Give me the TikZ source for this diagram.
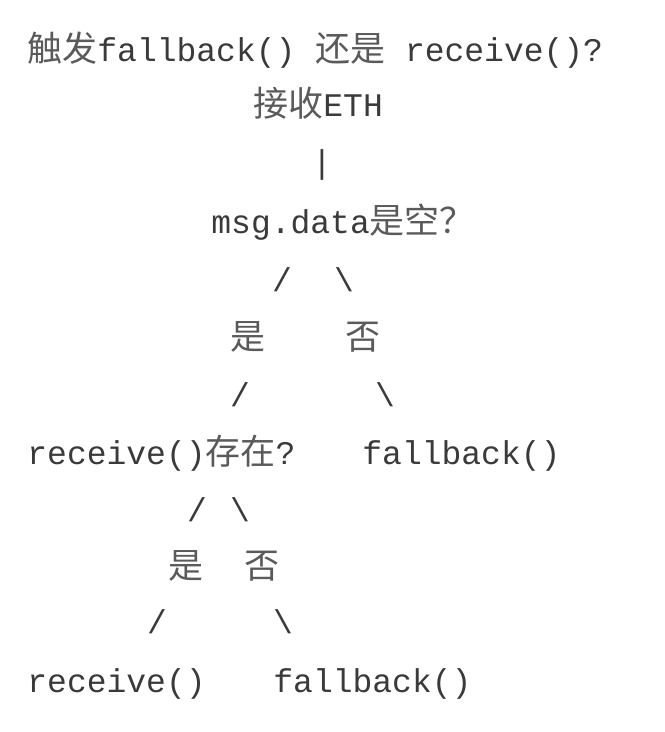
\documentclass[tikz,border=0pt]{standalone}
\usepackage{fontspec}
\setmonofont{Liberation Mono}
\newfontfamily\cjk{Noto Sans CJK SC}
\usepackage{tikz}
\definecolor{inkgray}{HTML}{3A3A3A}
\definecolor{hangray}{HTML}{5A5A5A}
\newcommand{\zh}[1]{{\cjk\fontsize{17.5}{18}\selectfont\color{hangray}#1}}

\begin{document}
\begin{tikzpicture}[x=0.5pt, y=-0.5pt,
    txt/.style={inner sep=0pt, font=\ttfamily\fontsize{16.5}{18}\selectfont, text=inkgray, anchor=base west},
    glyph/.style={txt, anchor=center}
]
    \useasboundingbox (0,0) rectangle (664,732);

    % heading and root
    \node[txt] (title) at (27,62) {\zh{触发}fallback() \zh{还是} receive()?};
    \node[txt] (root) at (253,117) {\zh{接收}ETH};
    \node[glyph] (bar) at (322,165) {|};

    % first question
    \node[txt] (qdata) at (211,234) {msg.data\zh{是空？}};
    \node[glyph] (sla) at (282,280) {/};
    \node[glyph] (bsa) at (344,280) {\textbackslash};
    \node[glyph] (yesa) at (248,337) {\zh{是}};
    \node[glyph] (noa) at (363,337) {\zh{否}};
    \node[glyph] (slb) at (240,395) {/};
    \node[glyph] (bsb) at (385,395) {\textbackslash};

    % second question
    \node[txt] (qrecv) at (27,464) {receive()\zh{存在}?};
    \node[txt] (fallbacka) at (362,464) {fallback()};
    \node[glyph] (slc) at (197,510) {/};
    \node[glyph] (bsc) at (240,510) {\textbackslash};
    \node[glyph] (yesb) at (186,566) {\zh{是}};
    \node[glyph] (nob) at (262,566) {\zh{否}};
    \node[glyph] (sld) at (157,622) {/};
    \node[glyph] (bsd) at (283,622) {\textbackslash};

    % leaves
    \node[txt] (recv) at (27,692) {receive()};
    \node[txt] (fallbackb) at (273,692) {fallback()};
\end{tikzpicture}
\end{document}
